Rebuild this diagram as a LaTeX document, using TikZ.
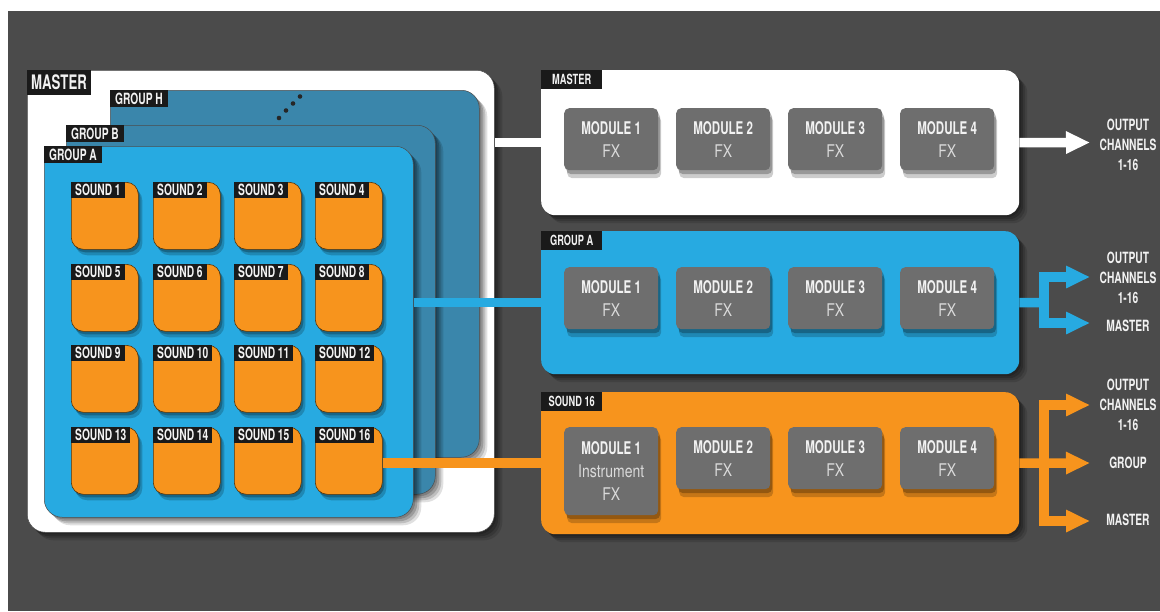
\documentclass[tikz,border=0pt]{standalone}
\usepackage{fontspec}
\newfontfamily\cnd{TeX Gyre Heros}[FakeStretch=0.66]
\newfontfamily\cndr{TeX Gyre Heros}[FakeStretch=0.8]
\usetikzlibrary{shadows,arrows.meta}
\definecolor{bg}{HTML}{4B4B4B}
\definecolor{gblue}{HTML}{27AAE1}
\definecolor{dblue}{HTML}{3A86AB}
\definecolor{orng}{HTML}{F7941D}
\definecolor{modg}{HTML}{6E6E6E}
\definecolor{tabk}{HTML}{1A1A1A}
\definecolor{txtw}{HTML}{F2F2F2}
\definecolor{fxg}{HTML}{DADADA}
\tikzset{
  soft/.style={
    drop shadow={shadow xshift=2pt, shadow yshift=-2pt, opacity=0.18, fill=black},
    drop shadow={shadow xshift=4pt, shadow yshift=-4pt, opacity=0.18, fill=black},
    drop shadow={shadow xshift=6pt, shadow yshift=-6pt, opacity=0.15, fill=black},
    drop shadow={shadow xshift=8pt, shadow yshift=-8pt, opacity=0.12, fill=black}},
  bigbox/.style={anchor=north west, rounded corners=18pt, inner sep=0pt, draw=black!70, line width=0.5pt, soft},
  tabb/.style={anchor=north west, fill=tabk, text=txtw, inner xsep=5pt, inner ysep=0pt,
    font=\cnd\bfseries\fontsize{15.5}{15.5}\selectfont, minimum height=17pt},
  bigtab/.style={tabb, font=\cnd\bfseries\fontsize{20}{20}\selectfont, minimum height=25pt, inner xsep=4pt},
  ptab/.style={tabb, font=\cnd\bfseries\fontsize{14}{14}\selectfont, minimum height=19pt, minimum width=61pt, inner xsep=2pt},
  pad/.style={anchor=north west, fill=orng, draw=black!65!orng, line width=0.6pt, rounded corners=12pt,
    minimum width=67pt, minimum height=67pt, inner sep=0pt,
    drop shadow={shadow xshift=2pt, shadow yshift=-3pt, opacity=0.25, fill=black},
    drop shadow={shadow xshift=4pt, shadow yshift=-6pt, opacity=0.2, fill=black}},
  panel/.style={anchor=north west, rounded corners=14pt, minimum width=478pt, inner sep=0pt, soft},
  module/.style={anchor=north west, fill=modg, rounded corners=5pt, minimum width=94pt, minimum height=62pt,
    inner sep=0pt, align=center, text=txtw, font=\fontsize{17.5}{23}\selectfont,
    drop shadow={shadow xshift=2pt, shadow yshift=-4pt, opacity=0.25, fill=black},
    drop shadow={shadow xshift=3pt, shadow yshift=-8pt, opacity=0.2, fill=black}},
  wire/.style={line width=9.5pt, draw=#1},
  tip/.style={-{Triangle[width=21pt,length=24pt]}},
  outlbl/.style={text=txtw, align=center, font=\cnd\bfseries\fontsize{15.5}{20}\selectfont, inner sep=0pt},
}
\newcommand{\mdl}[1]{{\cnd\bfseries MODULE #1}\\{\cndr\color{fxg}FX}}
\begin{document}
\begin{tikzpicture}[x=1pt,y=-1pt]
\useasboundingbox (0,0) rectangle (1160,611);
\fill[white] (0,0) rectangle (1160,611);
\fill[bg] (8,11) rectangle (1160,611);

% ---------- left side: master / groups / sounds ----------
\node[bigbox, fill=white, minimum width=467pt, minimum height=462pt] (mb) at (27,70) {};
\node[bigtab] (mbt) at (mb.north west) {MASTER};

\node[bigbox, fill=dblue, minimum width=369pt, minimum height=367pt] (gH) at (110,90) {};
\node[tabb] (gHt) at (gH.north west) {GROUP H};
\foreach \px/\py in {279/118, 286/110.5, 293/103.5, 300/96.5}
  \fill[black!85] (\px,\py) circle (2.3pt);

\node[bigbox, fill=dblue, minimum width=369pt, minimum height=369pt] (gB) at (66,125) {};
\node[tabb] (gBt) at (gB.north west) {GROUP B};

\node[bigbox, fill=gblue, minimum width=369pt, minimum height=371pt] (gA) at (44,146) {};
\node[tabb] (gAt) at (gA.north west) {GROUP A};

\foreach \r [count=\ri from 0] in {182,264,345,427} {
  \foreach \c [count=\ci from 0] in {71,153,234,315} {
    \pgfmathtruncatemacro\n{\ri*4+\ci+1}
    \node[pad] (s\n) at (\c,\r) {};
    \node[tabb, minimum height=16pt, inner xsep=4pt] (ts\n) at (s\n.north west) {SOUND \n};
  }
}

% ---------- right side panels ----------
\node[panel, fill=white, minimum height=145pt] (mp) at (541,70) {};
\node[ptab] (mpt) at (mp.north west) {MASTER};
\node[module] (mm1) at (564,108) {\mdl{1}};
\node[module] (mm2) at (676,108) {\mdl{2}};
\node[module] (mm3) at (788,108) {\mdl{3}};
\node[module] (mm4) at (900,108) {\mdl{4}};

\node[panel, fill=gblue, minimum height=143pt] (gp) at (541,231) {};
\node[ptab] (gpt) at (gp.north west) {GROUP A};
\node[module] (gm1) at (564,267) {\mdl{1}};
\node[module] (gm2) at (676,267) {\mdl{2}};
\node[module] (gm3) at (788,267) {\mdl{3}};
\node[module] (gm4) at (900,267) {\mdl{4}};

\node[panel, fill=orng, minimum height=142pt] (sp) at (541,392) {};
\node[ptab] (spt) at (sp.north west) {SOUND 16};
\node[module, minimum height=88pt] (sm1) at (564,427) {{\cnd\bfseries MODULE 1}\\{\cndr\color{fxg}Instrument}\\{\cndr\color{fxg}FX}};
\node[module] (sm2) at (676,427) {\mdl{2}};
\node[module] (sm3) at (788,427) {\mdl{3}};
\node[module] (sm4) at (900,427) {\mdl{4}};

% ---------- connectors into panels ----------
\draw[wire=white] (mb.east |- mp.west) -- (mp.west);
\draw[wire=gblue] (gA.east |- gp.west) -- (gp.west);
\draw[wire=orng] (s16.east |- sp.west) -- (sp.west);

% ---------- outputs ----------
\coordinate (mo) at (1090,142.5);
\draw[wire=white, tip] (mp.east) -- (mo);
\node[outlbl] (mol) at (1128,145) {OUTPUT\\CHANNELS\\1-16};

\coordinate (gb) at (1044,302.5);
\coordinate (go1) at (1090,277);
\coordinate (go2) at (1090,323);
\draw[wire=gblue] (gp.east) -- (gb);
\draw[wire=gblue, tip] (gb) |- (go1);
\draw[wire=gblue, tip] (gb) |- (go2);
\node[outlbl] (gol1) at (1128,278) {OUTPUT\\CHANNELS\\1-16};
\node[outlbl] (gol2) at (1128,326) {MASTER};

\coordinate (sb) at (1044,463);
\coordinate (so1) at (1090,405);
\coordinate (so2) at (1090,463);
\coordinate (so3) at (1090,521);
\draw[wire=orng, tip] (sp.east) -- (so2);
\draw[wire=orng, tip] (sb) |- (so1);
\draw[wire=orng, tip] (sb) |- (so3);
\node[outlbl] (sol1) at (1128,405) {OUTPUT\\CHANNELS\\1-16};
\node[outlbl] (sol2) at (1128,463) {GROUP};
\node[outlbl] (sol3) at (1128,520) {MASTER};
\end{tikzpicture}
\end{document}
